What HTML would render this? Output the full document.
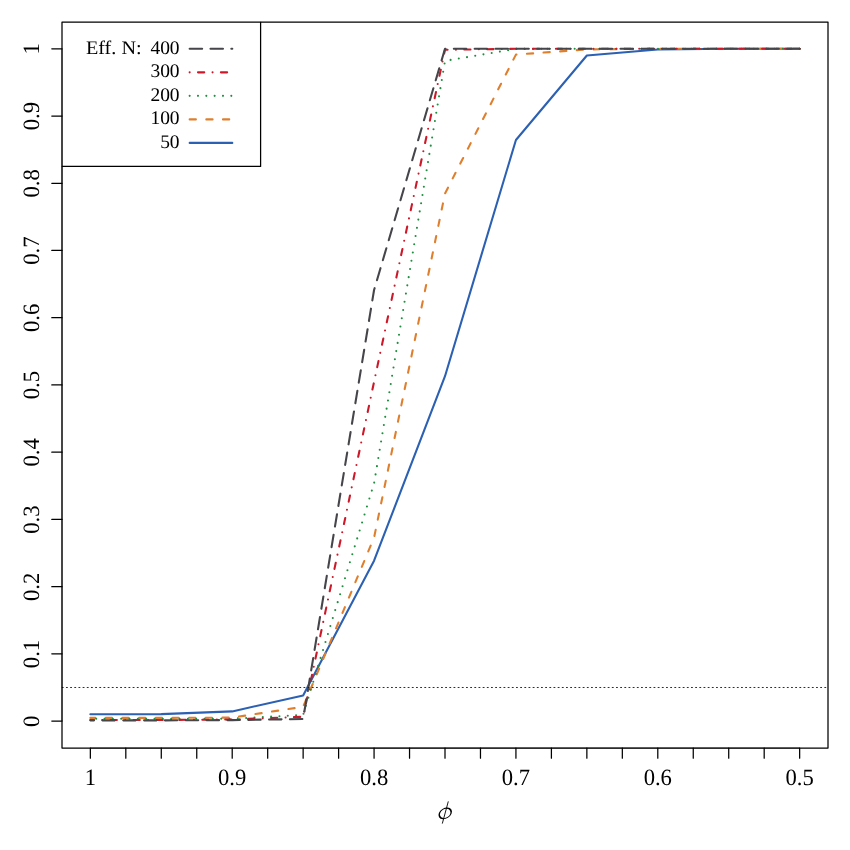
<!DOCTYPE html>
<html><head><meta charset="utf-8"><title>chart</title>
<style>
html,body{margin:0;padding:0;background:#fff;}
#wrap{width:850px;height:850px;will-change:transform;background:#fff;overflow:hidden;}
svg{display:block;}
text{font-family:"Liberation Serif",serif;fill:#000;text-rendering:geometricPrecision;}
</style></head><body>
<div id="wrap">
<svg width="850" height="850" viewBox="0 0 850 850">
<rect x="0" y="0" width="850" height="850" fill="#fff"/>
<polyline points="799.65,48.80 728.72,48.80 657.79,49.50 586.86,55.50 515.93,140.00 445.00,376.20 374.07,560.70 303.14,695.40 232.21,711.40 161.28,714.10 90.35,714.30" fill="none" stroke="#2c60b2" stroke-width="2.0833" stroke-linejoin="round" stroke-linecap="round"/>
<polyline points="799.65,48.80 728.72,48.80 657.79,48.80 586.86,49.40 515.93,54.60 445.00,193.50 374.07,537.60 303.14,706.80 232.21,717.60 161.28,717.90 90.35,717.90" fill="none" stroke="#df7f2e" stroke-width="2.0833" stroke-linejoin="round" stroke-linecap="round" stroke-dasharray="6.250 10.416"/>
<polyline points="799.65,48.80 728.72,48.80 657.79,48.80 586.86,48.80 515.93,48.90 445.00,60.85 374.07,483.30 303.14,714.90 232.21,718.70 161.28,718.70 90.35,718.70" fill="none" stroke="#1f8f3f" stroke-width="2.0833" stroke-linejoin="round" stroke-linecap="round" stroke-dasharray="0 8.333"/>
<polyline points="799.65,48.80 728.72,48.80 657.79,48.80 586.86,48.80 515.93,48.80 445.00,49.80 374.07,381.80 303.14,716.80 232.21,719.50 161.28,720.00 90.35,720.00" fill="none" stroke="#cc1828" stroke-width="2.0833" stroke-linejoin="round" stroke-linecap="round" stroke-dasharray="0 8.333 6.250 8.333"/>
<polyline points="799.65,48.80 728.72,48.80 657.79,48.80 586.86,48.80 515.93,48.80 445.00,48.80 374.07,290.00 303.14,719.00 232.21,720.10 161.28,720.35 90.35,720.35" fill="none" stroke="#45454a" stroke-width="2.0833" stroke-linejoin="round" stroke-linecap="round" stroke-dasharray="12.500 8.333"/>
<line x1="62.2" y1="687.49" x2="828.0" y2="687.49" stroke="#1a1a1a" stroke-width="0.92" stroke-linecap="round" stroke-dasharray="1.042 3.125"/>
<rect x="62.0" y="22.0" width="766.0" height="726.0" fill="none" stroke="#000" stroke-width="1.25" stroke-linejoin="round"/>
<rect x="60.5" y="20.5" width="200.10000000000002" height="145.96" fill="#fff" stroke="none"/>
<rect x="62.0" y="22.0" width="198.60000000000002" height="144.46" fill="none" stroke="#000" stroke-width="1.25" stroke-linejoin="round"/>
<g fill="none" stroke="#000" stroke-width="1.25" stroke-linecap="round" stroke-linejoin="round">
<line x1="90.35" y1="748.0" x2="799.65" y2="748.0" stroke-width="0.55" stroke-linecap="butt"/>
<line x1="62.0" y1="721.10" x2="62.0" y2="48.80" stroke-width="0.55" stroke-linecap="butt"/>
<line x1="90.35" y1="748.0" x2="90.35" y2="758.2"/>
<line x1="125.81" y1="748.0" x2="125.81" y2="758.2"/>
<line x1="161.28" y1="748.0" x2="161.28" y2="758.2"/>
<line x1="196.75" y1="748.0" x2="196.75" y2="758.2"/>
<line x1="232.21" y1="748.0" x2="232.21" y2="758.2"/>
<line x1="267.68" y1="748.0" x2="267.68" y2="758.2"/>
<line x1="303.14" y1="748.0" x2="303.14" y2="758.2"/>
<line x1="338.61" y1="748.0" x2="338.61" y2="758.2"/>
<line x1="374.07" y1="748.0" x2="374.07" y2="758.2"/>
<line x1="409.54" y1="748.0" x2="409.54" y2="758.2"/>
<line x1="445.00" y1="748.0" x2="445.00" y2="758.2"/>
<line x1="480.47" y1="748.0" x2="480.47" y2="758.2"/>
<line x1="515.93" y1="748.0" x2="515.93" y2="758.2"/>
<line x1="551.40" y1="748.0" x2="551.40" y2="758.2"/>
<line x1="586.86" y1="748.0" x2="586.86" y2="758.2"/>
<line x1="622.33" y1="748.0" x2="622.33" y2="758.2"/>
<line x1="657.79" y1="748.0" x2="657.79" y2="758.2"/>
<line x1="693.26" y1="748.0" x2="693.26" y2="758.2"/>
<line x1="728.72" y1="748.0" x2="728.72" y2="758.2"/>
<line x1="764.19" y1="748.0" x2="764.19" y2="758.2"/>
<line x1="799.65" y1="748.0" x2="799.65" y2="758.2"/>
<line x1="51.8" y1="721.10" x2="62.0" y2="721.10"/>
<line x1="51.8" y1="653.87" x2="62.0" y2="653.87"/>
<line x1="51.8" y1="586.64" x2="62.0" y2="586.64"/>
<line x1="51.8" y1="519.41" x2="62.0" y2="519.41"/>
<line x1="51.8" y1="452.18" x2="62.0" y2="452.18"/>
<line x1="51.8" y1="384.95" x2="62.0" y2="384.95"/>
<line x1="51.8" y1="317.72" x2="62.0" y2="317.72"/>
<line x1="51.8" y1="250.49" x2="62.0" y2="250.49"/>
<line x1="51.8" y1="183.26" x2="62.0" y2="183.26"/>
<line x1="51.8" y1="116.03" x2="62.0" y2="116.03"/>
<line x1="51.8" y1="48.80" x2="62.0" y2="48.80"/>
</g>
<text transform="translate(90.35,784.9) scale(0.968,1)" font-size="23.4" text-anchor="middle">1</text>
<text transform="translate(232.21,784.9) scale(0.968,1)" font-size="23.4" text-anchor="middle">0.9</text>
<text transform="translate(374.07,784.9) scale(0.968,1)" font-size="23.4" text-anchor="middle">0.8</text>
<text transform="translate(515.93,784.9) scale(0.968,1)" font-size="23.4" text-anchor="middle">0.7</text>
<text transform="translate(657.79,784.9) scale(0.968,1)" font-size="23.4" text-anchor="middle">0.6</text>
<text transform="translate(799.65,784.9) scale(0.968,1)" font-size="23.4" text-anchor="middle">0.5</text>
<text transform="translate(38.6,721.25) rotate(-90) scale(0.968,1)" font-size="23.4" text-anchor="middle">0</text>
<text transform="translate(38.6,654.02) rotate(-90) scale(0.968,1)" font-size="23.4" text-anchor="middle">0.1</text>
<text transform="translate(38.6,586.79) rotate(-90) scale(0.968,1)" font-size="23.4" text-anchor="middle">0.2</text>
<text transform="translate(38.6,519.56) rotate(-90) scale(0.968,1)" font-size="23.4" text-anchor="middle">0.3</text>
<text transform="translate(38.6,452.33) rotate(-90) scale(0.968,1)" font-size="23.4" text-anchor="middle">0.4</text>
<text transform="translate(38.6,385.10) rotate(-90) scale(0.968,1)" font-size="23.4" text-anchor="middle">0.5</text>
<text transform="translate(38.6,317.87) rotate(-90) scale(0.968,1)" font-size="23.4" text-anchor="middle">0.6</text>
<text transform="translate(38.6,250.64) rotate(-90) scale(0.968,1)" font-size="23.4" text-anchor="middle">0.7</text>
<text transform="translate(38.6,183.41) rotate(-90) scale(0.968,1)" font-size="23.4" text-anchor="middle">0.8</text>
<text transform="translate(38.6,116.18) rotate(-90) scale(0.968,1)" font-size="23.4" text-anchor="middle">0.9</text>
<text transform="translate(38.6,48.95) rotate(-90) scale(0.968,1)" font-size="23.4" text-anchor="middle">1</text>
<g id="phi" fill="none" stroke="#000"><path transform="translate(445.2,813.4) rotate(-32)" fill="#000" stroke="none" fill-rule="evenodd" d="M-7.3,0 A7.3,5.2 0 1 0 7.3,0 A7.3,5.2 0 1 0 -7.3,0 Z M-5.6,0 A5.6,4.35 0 1 0 5.6,0 A5.6,4.35 0 1 0 -5.6,0 Z"/><line x1="448.3" y1="801.4" x2="442.3" y2="823.6" stroke-width="0.9"/></g>
<line x1="189.65" y1="48.83" x2="232.3" y2="48.83" stroke="#45454a" stroke-width="2.0833" stroke-linecap="round" stroke-dasharray="12.500 8.333"/>
<text transform="translate(179.6,53.83) scale(1.01,1)" font-size="19.3" text-anchor="end">400</text>
<line x1="189.65" y1="72.35" x2="232.3" y2="72.35" stroke="#cc1828" stroke-width="2.0833" stroke-linecap="round" stroke-dasharray="0 8.333 6.250 8.333"/>
<text transform="translate(179.6,77.35) scale(1.01,1)" font-size="19.3" text-anchor="end">300</text>
<line x1="189.65" y1="95.87" x2="232.3" y2="95.87" stroke="#1f8f3f" stroke-width="2.0833" stroke-linecap="round" stroke-dasharray="0 8.333"/>
<text transform="translate(179.6,100.87) scale(1.01,1)" font-size="19.3" text-anchor="end">200</text>
<line x1="189.65" y1="119.39" x2="232.3" y2="119.39" stroke="#df7f2e" stroke-width="2.0833" stroke-linecap="round" stroke-dasharray="6.250 10.416"/>
<text transform="translate(179.6,124.39) scale(1.01,1)" font-size="19.3" text-anchor="end">100</text>
<line x1="189.65" y1="142.91" x2="232.3" y2="142.91" stroke="#2c60b2" stroke-width="2.0833" stroke-linecap="round"/>
<text transform="translate(179.6,147.91) scale(1.01,1)" font-size="19.3" text-anchor="end">50</text>
<text transform="translate(141.6,53.83) scale(1.046,1)" font-size="19.3" text-anchor="end">Eff. N:</text>
</svg>
</div></body></html>
